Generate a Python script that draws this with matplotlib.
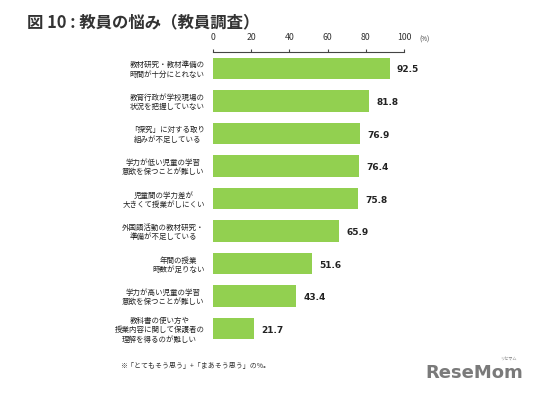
import matplotlib.pyplot as plt
import numpy as np

plt.rcParams['font.family'] = ['Noto Sans CJK JP', 'DejaVu Sans']

categories = [
    '教材研究・教材準備の\n時間が十分にとれない',
    '教育行政が学校現場の\n状況を把握していない',
    '「探究」に対する取り\n組みが不足している',
    '学力が低い児童の学習\n意欲を保つことが難しい',
    '児童間の学力差が\n大きくて授業がしにくい',
    '外国語活動の教材研究・\n準備が不足している',
    '年間の授業\n時数が足りない',
    '学力が高い児童の学習\n意欲を保つことが難しい',
    '教科書の使い方や\n授業内容に関して保護者の\n理解を得るのが難しい',
]
values = [92.5, 81.8, 76.9, 76.4, 75.8, 65.9, 51.6, 43.4, 21.7]
xticks = [0, 20, 40, 60, 80, 100]

fig = plt.figure(figsize=(5.36, 3.94), dpi=100)
ax = fig.add_axes([213/536, 1 - 345/394, 191/536, 293/394])

y = np.arange(len(values))
ax.barh(y, values, height=0.66, color='#92D050')
for yi, v in zip(y, values):
    ax.text(v + 3.8, yi + 0.05, '%.1f' % v, va='center', ha='left',
            fontsize=6.5, color='#222222', fontweight='bold', family='DejaVu Sans')

ax.set_xlim(0, 100)
ax.set_ylim(len(values) - 0.5, -0.5)
ax.xaxis.tick_top()
ax.set_xticks(xticks)
ax.set_xticklabels([str(t) for t in xticks], fontsize=6.3, color='#333333')
ax.tick_params(axis='x', direction='out', length=2.5, width=0.8, color='#444444', pad=5)
ax.set_yticks(y)
ax.set_yticklabels(categories, fontsize=5.4, color='#222222')
for lab in ax.get_yticklabels():
    lab.set_multialignment('center')
ax.tick_params(axis='y', length=0, pad=6)

for s in ['left', 'right', 'bottom']:
    ax.spines[s].set_visible(False)
ax.spines['top'].set_color('#444444')
ax.spines['top'].set_linewidth(0.8)

fig.text(419/536, 1 - 40/394, '(%)', fontsize=4.5, color='#333333', va='center', ha='left')
fig.text(27/536, 1 - 22/394, '図 10 : 教員の悩み（教員調査）', fontsize=11.8,
         fontweight='bold', color='#333333', va='center', ha='left')
fig.text(120/536, 1 - 366/394, '※「とてもそう思う」+「まあそう思う」の%。', fontsize=5.0,
         color='#333333', va='center', ha='left')

# logo
fig.text(523/536, 1 - 373/394, 'ReseMom', fontsize=13, fontweight='bold',
         color='#7a7a7a', va='center', ha='right', family='DejaVu Sans')
fig.text(508/536, 1 - 359/394, 'リセマム', fontsize=3, color='#808080',
         va='center', ha='center')

fig.savefig('out.png', dpi=100, facecolor='white')
